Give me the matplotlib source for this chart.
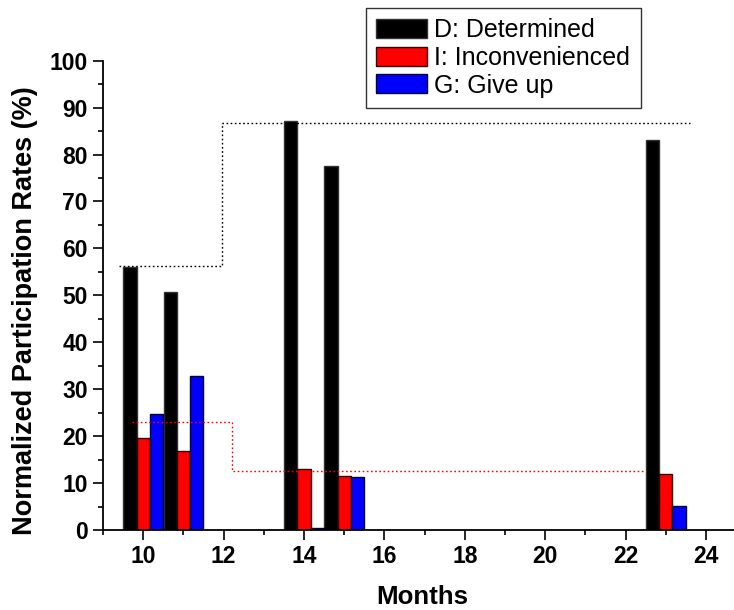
import numpy as np
import matplotlib
matplotlib.use("Agg")
import matplotlib.pyplot as plt
from matplotlib.ticker import MultipleLocator

plt.rcParams['font.family'] = ['Liberation Sans', 'DejaVu Sans']

# bar data (months after start, normalized participation %)
months = [10, 11, 14, 15, 23]
determined = [56.1, 50.7, 87.2, 77.6, 83.2]
inconvenienced = [19.7, 16.8, 12.9, 11.6, 11.9]
give_up = [24.7, 32.9, 0.4, 11.2, 5.1]

# dotted step lines (averages)
det_avg_x = [9.39, 11.95, 11.95, 23.6]
det_avg_y = [56.3, 56.3, 86.7, 86.7]
inc_avg_x = [9.71, 12.2, 12.2, 22.5]
inc_avg_y = [23.0, 23.0, 12.5, 12.5]

W, H = 734, 610
fig = plt.figure(figsize=(W / 100, H / 100), dpi=100)
ax = fig.add_axes([103 / W, 1 - 530 / H, 643.2 / W, 469.3 / H])

x = np.array(months, dtype=float)
w = 0.33
b1 = ax.bar(x - w, determined, w, color='black', edgecolor='#333333', linewidth=1, label='D: Determined')
b2 = ax.bar(x, inconvenienced, w, color='#ff0000', edgecolor='#330000', linewidth=1, label='I: Inconvenienced')
b3 = ax.bar(x + w, give_up, w, color='#0000ff', edgecolor='#000033', linewidth=1, label='G: Give up')

ax.plot(det_avg_x, det_avg_y, color='black', linestyle=(0, (1.2, 1.8)), linewidth=1)
ax.plot(inc_avg_x, inc_avg_y, color='#ff0000', linestyle=(0, (1.2, 1.8)), linewidth=1)

ax.set_xlim(9, 25)
ax.set_ylim(0, 100)
ax.xaxis.set_major_locator(MultipleLocator(2))
ax.xaxis.set_minor_locator(MultipleLocator(1))
ax.yaxis.set_major_locator(MultipleLocator(10))
ax.yaxis.set_minor_locator(MultipleLocator(5))

for s in ['top', 'right']:
    ax.spines[s].set_visible(False)
for s in ['left', 'bottom']:
    ax.spines[s].set_linewidth(1.3)
ax.tick_params(which='major', direction='out', length=7, width=1.2, pad=4, labelsize=16.5)
ax.tick_params(which='minor', direction='out', length=3.6, width=1.2)
for lab in ax.get_xticklabels() + ax.get_yticklabels():
    lab.set_fontweight('bold')

fig.text(25 / W, 1 - 311 / H, 'Normalized Participation Rates (%)', rotation=90,
         ha='center', va='center', fontsize=19.5, fontweight='bold')
fig.text(422 / W, 1 - 597 / H, 'Months', ha='center', va='center',
         fontsize=18.6, fontweight='bold')

leg = fig.legend(handles=[b1, b2, b3], loc='upper left',
                 bbox_to_anchor=(366 / W, 1 - 98 / H, 275 / W, 90 / H),
                 mode='expand', fontsize=18, frameon=True, fancybox=False,
                 edgecolor='black', handlelength=2.05, handleheight=0.8,
                 handletextpad=0.25, labelspacing=0.15, borderpad=0.4,
                 borderaxespad=0)
leg.get_frame().set_linewidth(1)

fig.savefig('out.png', dpi=100)
